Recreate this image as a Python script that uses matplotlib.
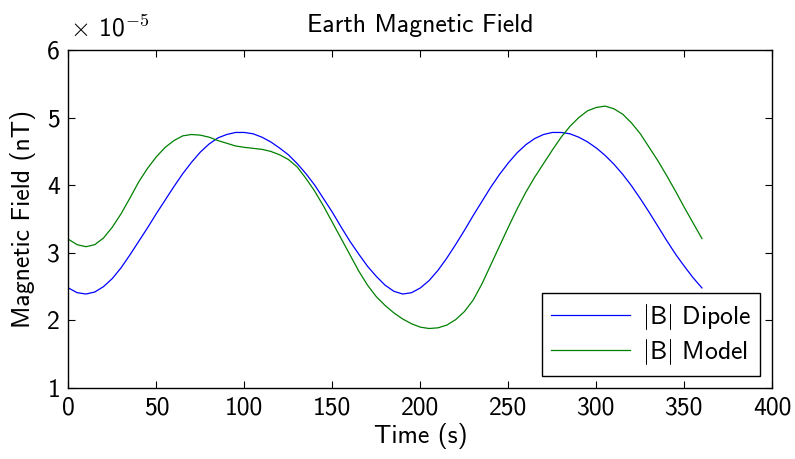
import matplotlib
matplotlib.use('Agg')
import matplotlib.pyplot as plt
from matplotlib.ticker import FuncFormatter
import numpy as np

# time samples (s) and field values in units of 1e-5
time = np.arange(0, 361, 5)
dipole = [2.48, 2.41, 2.39, 2.42, 2.50, 2.62, 2.78, 2.97, 3.17, 3.37,
          3.58, 3.78, 3.98, 4.17, 4.34, 4.49, 4.61, 4.70, 4.75, 4.78,
          4.78, 4.76, 4.71, 4.64, 4.55, 4.45, 4.32, 4.17, 4.00, 3.80,
          3.60, 3.38, 3.17, 2.98, 2.80, 2.65, 2.52, 2.43, 2.39, 2.41,
          2.48, 2.59, 2.74, 2.92, 3.12, 3.33, 3.55, 3.76, 3.97, 4.16,
          4.33, 4.48, 4.60, 4.69, 4.75, 4.78, 4.78, 4.76, 4.71, 4.64,
          4.55, 4.44, 4.31, 4.16, 3.99, 3.80, 3.60, 3.39, 3.18, 2.98,
          2.80, 2.63, 2.48]
model = [3.20, 3.12, 3.09, 3.12, 3.22, 3.38, 3.58, 3.81, 4.05, 4.25,
         4.42, 4.56, 4.66, 4.73, 4.75, 4.74, 4.71, 4.66, 4.62, 4.58,
         4.56, 4.545, 4.53, 4.50, 4.45, 4.38, 4.27, 4.10, 3.91, 3.69,
         3.45, 3.21, 2.97, 2.73, 2.52, 2.35, 2.22, 2.11, 2.02, 1.95,
         1.90, 1.88, 1.89, 1.93, 2.01, 2.13, 2.30, 2.54, 2.82, 3.10,
         3.38, 3.65, 3.90, 4.12, 4.32, 4.52, 4.71, 4.87, 5.00, 5.10,
         5.15, 5.17, 5.13, 5.05, 4.92, 4.76, 4.56, 4.36, 4.14, 3.91,
         3.67, 3.44, 3.21]
scale = 1e-5
labels = [r'$|$B$|$ Dipole', r'$|$B$|$ Model']

plt.rcParams['font.family'] = ['cmss10', 'DejaVu Sans']
plt.rcParams['mathtext.fontset'] = 'cm'
plt.rcParams['axes.unicode_minus'] = False
fs = 18.5

fig = plt.figure(figsize=(7.95, 4.59), dpi=100)
ax = fig.add_axes([0.086, 0.1547, 0.8855, 0.7364])

ax.plot(time, np.array(dipole) * scale, color=(0, 0, 1), lw=0.9, label=labels[0])
ax.plot(time, np.array(model) * scale, color=(0, 0.5, 0), lw=0.9, label=labels[1])

ax.set_xlim(0, 400)
ax.set_ylim(1e-5, 6e-5)
ax.set_xticks(np.arange(0, 401, 50))
ax.set_yticks(np.arange(1, 7) * scale)
ax.yaxis.set_major_formatter(FuncFormatter(lambda v, p: '%g' % round(v / scale, 6)))
ax.text(0.003, 1.04, r'$\times$ 10$^{-5}$', transform=ax.transAxes,
        ha='left', va='baseline', fontsize=fs)

ax.tick_params(direction='in', top=True, right=True, length=5, width=0.8,
               labelsize=fs, pad=6)
for s in ax.spines.values():
    s.set_linewidth(1.0)

ax.set_title('Earth Magnetic Field', fontsize=fs, pad=13)
ax.set_xlabel('Time (s)', fontsize=fs, labelpad=3)
ax.set_ylabel('Magnetic Field (nT)', fontsize=fs, labelpad=8)

leg = ax.legend(loc='lower right', fancybox=False, edgecolor='black',
                framealpha=1, handlelength=3.1, borderaxespad=0.47,
                fontsize=fs, labelspacing=0.2, handletextpad=0.45,
                borderpad=0.35)
leg.get_frame().set_linewidth(1.0)

plt.savefig('out.png', dpi=100)
